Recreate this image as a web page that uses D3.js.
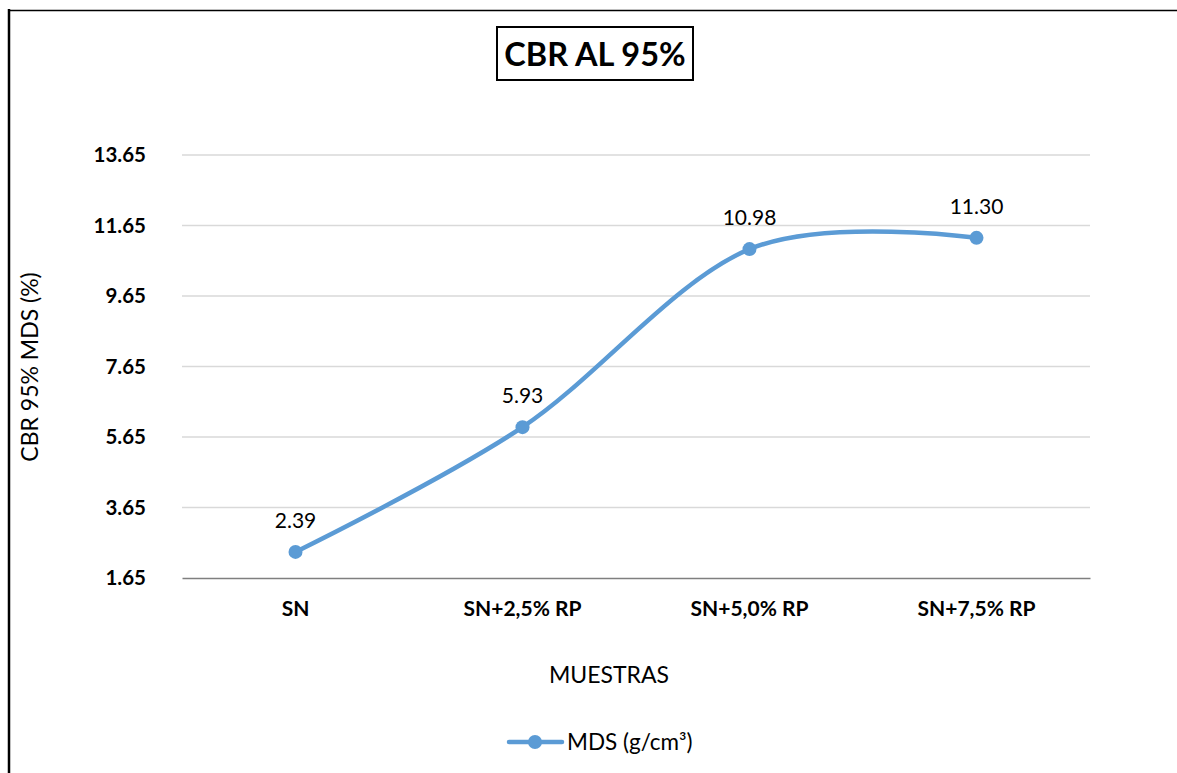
<!DOCTYPE html>
<html><head><meta charset="utf-8">
<script src="https://cdn.jsdelivr.net/npm/d3@7"></script>
<style>body{margin:0;background:#fff}svg{display:block}</style>
</head><body>
<svg id="c" width="1177" height="773"></svg>
<script>
const categories = ["SN", "SN+2,5% RP", "SN+5,0% RP", "SN+7,5% RP"];
const values = [2.39, 5.93, 10.98, 11.30];
const yTicks = [1.65, 3.65, 5.65, 7.65, 9.65, 11.65, 13.65];
const seriesName = "MDS (g/cm³)";
const title = "CBR AL 95%";
const xTitle = "MUESTRAS";
const yTitle = "CBR 95% MDS (%)";

const svg = d3.select("#c");
const font = "Lato, 'Open Sans', sans-serif";
const L = 182, R = 1090, T = 155, B = 578;
const color = "#5b9bd5";

// outer borders
svg.append("line").attr("x1",9).attr("x2",9).attr("y1",9).attr("y2",773).attr("stroke","#000").attr("stroke-width",2.5);
svg.append("line").attr("x1",8).attr("x2",1177).attr("y1",10.5).attr("y2",10.5).attr("stroke","#000").attr("stroke-width",1.5);

const x = d3.scaleBand().domain(categories).range([L,R]);
const y = d3.scaleLinear().domain([1.65,13.65]).range([B,T]);

// gridlines
svg.append("g").selectAll("line").data(yTicks.slice(1)).join("line")
  .attr("x1",L).attr("x2",R).attr("y1",d=>y(d)).attr("y2",d=>y(d))
  .attr("stroke","#d9d9d9").attr("stroke-width",1.3);

// y axis labels
const ya = svg.append("g").attr("transform",`translate(${L},0)`)
  .call(d3.axisLeft(y).tickValues(yTicks).tickFormat(d3.format(".2f")).tickSize(0).tickPadding(36));
ya.select(".domain").remove();
ya.selectAll("text").attr("font-family",font).attr("font-size",20.5).attr("font-weight","bold").attr("fill","#000");

// x axis
const xa = svg.append("g").attr("transform",`translate(0,${B})`)
  .call(d3.axisBottom(x).tickSize(0).tickPadding(23));
xa.select(".domain").attr("stroke","#7f7f7f").attr("stroke-width",1.5);
xa.selectAll("text").attr("font-family",font).attr("font-size",21).attr("font-weight","bold").attr("fill","#000");

// line
const pts = values.map((v,i)=>[x(categories[i])+x.bandwidth()/2, y(v)]);
svg.append("path").attr("d", d3.line().curve(d3.curveCardinal.tension(0))(pts))
  .attr("fill","none").attr("stroke",color).attr("stroke-width",4.5).attr("stroke-linecap","round");
svg.append("g").selectAll("circle").data(pts).join("circle")
  .attr("cx",d=>d[0]).attr("cy",d=>d[1]).attr("r",7).attr("fill",color);
svg.append("g").selectAll("text").data(values).join("text")
  .attr("x",(d,i)=>pts[i][0]).attr("y",(d,i)=>pts[i][1]-24)
  .attr("text-anchor","middle").attr("font-family",font).attr("font-size",21).attr("fill","#000")
  .text(d=>d3.format(".2f")(d));

// title
svg.append("rect").attr("x",497).attr("y",27).attr("width",196).attr("height",53)
  .attr("fill","#fff").attr("stroke","#000").attr("stroke-width",2);
svg.append("text").attr("x",595).attr("y",66).attr("text-anchor","middle")
  .attr("font-family",font).attr("font-size",32.5).attr("font-weight","bold").text(title);

// axis titles
svg.append("text").attr("x",609).attr("y",683).attr("text-anchor","middle")
  .attr("font-family",font).attr("font-size",23).text(xTitle);
svg.append("text").attr("transform","translate(38,367) rotate(-90)").attr("text-anchor","middle")
  .attr("font-family",font).attr("font-size",23).text(yTitle);

// legend
svg.append("line").attr("x1",509).attr("x2",562).attr("y1",742).attr("y2",742)
  .attr("stroke",color).attr("stroke-width",4.5).attr("stroke-linecap","round");
svg.append("circle").attr("cx",535).attr("cy",742).attr("r",7).attr("fill",color);
svg.append("text").attr("x",567).attr("y",750).attr("font-family",font).attr("font-size",22.5).text(seriesName);
</script>
</body></html>
